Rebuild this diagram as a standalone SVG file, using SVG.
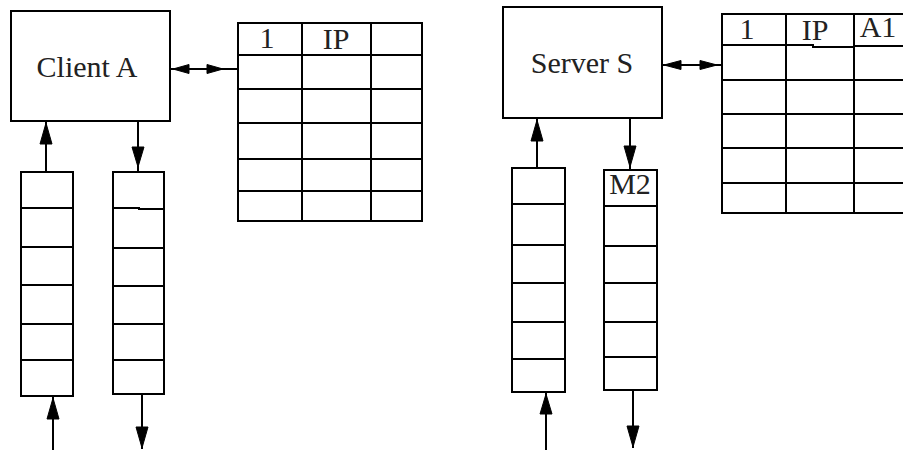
<svg xmlns="http://www.w3.org/2000/svg" width="903" height="450" viewBox="0 0 903 450">
  <style>
    .box { fill: #fff; stroke: #000; stroke-width: 2; }
    .grid { fill: none; stroke: #000; stroke-width: 2; }
    .wire { fill: none; stroke: #000; stroke-width: 2; }
    .head { fill: #000; stroke: #000; stroke-width: 1; stroke-linejoin: miter; }
    .lbl { font-family: "Liberation Serif", "DejaVu Serif", serif; font-size: 30px; fill: #222; text-anchor: middle; }
  </style>
  <rect width="903" height="450" fill="#fff"/>

  <!-- client side -->
  <g id="client-a">
    <rect class="box" x="11" y="11" width="159" height="110"/>
    <text class="lbl" x="87" y="77">Client A</text>
  </g>

  <g id="client-table">
    <rect class="grid" x="238" y="23" width="184" height="198"/>
    <path class="grid" d="M302,23 V221 M371,23 V221 M238,55 H422 M238,89 H422 M238,123 H422 M238,159 H422 M238,191 H422"/>
    <text class="lbl" x="267" y="48">1</text>
    <text class="lbl" x="336" y="49">IP</text>
  </g>

  <g id="client-in-queue">
    <rect class="grid" x="21" y="172" width="52" height="224"/>
    <path class="grid" d="M21,208 H73 M21,247 H73 M21,285 H73 M21,324 H73 M21,360 H73"/>
  </g>

  <g id="client-out-queue">
    <rect class="grid" x="113" y="172" width="51" height="222"/>
    <path class="grid" d="M113,208 H139 V209 H164 M113,248 H164 M113,286 H164 M113,324 H164 M113,360 H164"/>
  </g>

  <!-- server side -->
  <g id="server-s">
    <rect class="box" x="503" y="7" width="159" height="111"/>
    <text class="lbl" x="582" y="73">Server S</text>
  </g>

  <g id="server-table">
    <rect class="grid" x="722" y="14" width="200" height="199"/>
    <path class="grid" d="M786,14 V213 M854,14 V213 M722,45 H813 V47 H854 V46 H922 M722,80 H922 M722,114 H922 M722,148 H922 M722,183 H922"/>
    <text class="lbl" x="747" y="39">1</text>
    <text class="lbl" x="815" y="40">IP</text>
    <text class="lbl" x="878" y="37">A1</text>
  </g>

  <g id="server-in-queue">
    <rect class="grid" x="512" y="168" width="53" height="224"/>
    <path class="grid" d="M512,204 H565 M512,245 H565 M512,283 H565 M512,322 H565 M512,359 H565"/>
  </g>

  <g id="server-out-queue">
    <rect class="grid" x="604" y="170" width="53" height="220"/>
    <path class="grid" d="M604,206 H657 M604,246 H657 M604,283 H657 M604,322 H657 M604,357 H657"/>
    <text class="lbl" x="630" y="194">M2</text>
  </g>

  <!-- connectors: shafts, then filled heads -->
  <g id="connectors">
    <!-- client -->
    <path class="wire" d="M170,69 H238"/>
    <polygon class="head" points="173,69 189,64.5 189,73.5"/>
    <polygon class="head" points="223,69 207,64.5 207,73.5"/>
    <path class="wire" d="M46,172 V121"/>
    <polygon class="head" points="46,123 40,144 52,144"/>
    <path class="wire" d="M138,121 V172"/>
    <polygon class="head" points="138,167 132,147 144,147"/>
    <path class="wire" d="M53,450 V396"/>
    <polygon class="head" points="53,398 47,419 59,419"/>
    <path class="wire" d="M142,394 V449"/>
    <polygon class="head" points="142,448 136,427 148,427"/>
    <!-- server -->
    <path class="wire" d="M662,65 H722"/>
    <polygon class="head" points="664,65 681,60.5 681,69.5"/>
    <polygon class="head" points="717,65 700,60.5 700,69.5"/>
    <path class="wire" d="M537,168 V118"/>
    <polygon class="head" points="537,120 531,141 543,141"/>
    <path class="wire" d="M630,118 V170"/>
    <polygon class="head" points="630,167 624,146 636,146"/>
    <path class="wire" d="M546,450 V392"/>
    <polygon class="head" points="546,394 540,414 552,414"/>
    <path class="wire" d="M633,390 V448"/>
    <polygon class="head" points="633,447 627,426 639,426"/>
  </g>
</svg>
